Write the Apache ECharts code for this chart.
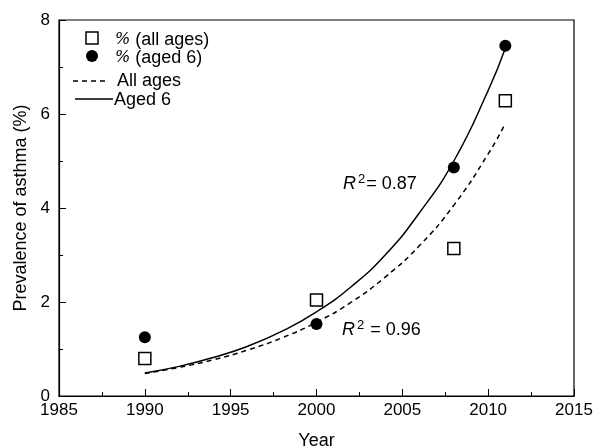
<!DOCTYPE html>
<html><head><meta charset="utf-8">
<script src="https://cdn.jsdelivr.net/npm/echarts@6/dist/echarts.min.js"></script>
<style>html,body{margin:0;padding:0;background:#fff}#c{width:597px;height:448px}</style>
</head><body><div id="c"></div>
<script>
var years = [1990, 2000, 2008, 2011];
var allAges = [0.8, 2.04, 3.14, 6.28];
var aged6 = [1.25, 1.53, 4.86, 7.45];
var fitYears = [1990, 1992, 1994, 1996, 1998, 2000, 2002, 2004, 2006, 2008, 2010, 2011];
var fitAllAges = [0.48, 0.61, 0.77, 0.98, 1.24, 1.57, 1.99, 2.53, 3.2, 4.06, 5.15, 5.8];
var fitAged6 = [0.49, 0.63, 0.82, 1.06, 1.38, 1.79, 2.32, 3.0, 3.9, 5.0, 6.5, 7.4];
var xTicks = [1985, 1990, 1995, 2000, 2005, 2010, 2015];
var yTicks = [0, 2, 4, 6, 8];
var legendNames = ['% (all ages)', '% (aged 6)', 'All ages', 'Aged 6'];

function pairs(xs, ys) { return xs.map(function (x, i) { return [x, ys[i]]; }); }
var font = 'Liberation Sans, Arial, sans-serif';
var chart = echarts.init(document.getElementById('c'));

function legendText(name, x, y) {
  var pct = name.charAt(0) === '%';
  return { type: 'text', silent: true,
    style: { x: x, y: y, verticalAlign: 'middle', align: 'left',
      text: pct ? '{p|%}{t|' + name.slice(1) + '}' : '{t|' + name + '}',
      rich: { p: { fontStyle: 'italic', fontFamily: 'DejaVu Serif, serif', fontSize: 16, fill: '#000' }, t: { fontSize: 18, fontFamily: font, fill: '#000' } } } };
}
var rich = { r: { fontStyle: 'italic', fontSize: 18, fontFamily: font }, s: { fontSize: 13, fontFamily: font, verticalAlign: 'top', padding: [0, 1, 9, 2] }, t: { fontSize: 18, fontFamily: font } };

chart.setOption({
  animation: false,
  grid: { left: 59, right: 23, top: 20, bottom: 52, show: true, borderColor: '#000', borderWidth: 1.2, containLabel: false, outerBoundsMode: 'none' },
  xAxis: {
    type: 'value', min: 1985, max: 2015, interval: 5,
    name: 'Year', nameLocation: 'middle', nameGap: 36,
    nameTextStyle: { color: '#000', fontSize: 18, fontFamily: font },
    axisLine: { lineStyle: { color: '#000', width: 1.2 } },
    axisTick: { inside: true, length: 7, lineStyle: { color: '#000' } },
    minorTick: { show: true, splitNumber: 2, length: 4, lineStyle: { color: '#000' } },
    axisLabel: { color: '#000', fontSize: 17, fontFamily: font, margin: 6, formatter: function (v) { return String(v); } },
    splitLine: { show: false }
  },
  yAxis: {
    type: 'value', min: 0, max: 8, interval: 2,
    name: 'Prevalence of asthma (%)', nameLocation: 'middle', nameGap: 28,
    nameTextStyle: { color: '#000', fontSize: 18, fontFamily: font },
    axisLine: { lineStyle: { color: '#000', width: 1.2 } },
    axisTick: { inside: true, length: 7, lineStyle: { color: '#000' } },
    minorTick: { show: true, splitNumber: 2, length: 4, lineStyle: { color: '#000' } },
    axisLabel: { color: '#000', fontSize: 17, fontFamily: font, margin: 9, padding: [0, 0, 3, 0] },
    splitLine: { show: false }
  },
  series: [
    { name: legendNames[0], type: 'scatter', data: pairs(years, allAges), symbol: 'rect', symbolSize: 12,
      itemStyle: { color: '#fff', borderColor: '#000', borderWidth: 1.5, opacity: 1 }, z: 5 },
    { name: legendNames[1], type: 'scatter', data: pairs(years, aged6), symbol: 'circle', symbolSize: 12,
      itemStyle: { color: '#000', opacity: 1 }, z: 5 },
    { name: legendNames[2], type: 'line', data: pairs(fitYears, fitAllAges), smooth: true, symbol: 'none',
      lineStyle: { color: '#000', width: 1.5, type: [5, 4] } },
    { name: legendNames[3], type: 'line', data: pairs(fitYears, fitAged6), smooth: true, symbol: 'none',
      lineStyle: { color: '#000', width: 1.5 } }
  ],
  graphic: [
    { type: 'rect', shape: { x: 86, y: 32, width: 12, height: 12 }, style: { fill: '#fff', stroke: '#000', lineWidth: 1.5 } },
    { type: 'circle', shape: { cx: 92, cy: 56, r: 6 }, style: { fill: '#000' } },
    { type: 'line', shape: { x1: 73, y1: 81, x2: 109, y2: 81 }, style: { stroke: '#000', lineWidth: 1.5, lineDash: [5, 4] } },
    { type: 'line', shape: { x1: 75, y1: 99, x2: 113, y2: 99 }, style: { stroke: '#000', lineWidth: 1.5 } },
    legendText(legendNames[0], 115, 40),
    legendText(legendNames[1], 115, 58),
    legendText(legendNames[2], 117, 81),
    legendText(legendNames[3], 114, 100),
    { type: 'text', left: 343, top: 173, style: { rich: rich, text: '{r|R}{s|2}{t|= 0.87}', fill: '#000' } },
    { type: 'text', left: 342, top: 319, style: { rich: rich, text: '{r|R}{s|2}{t| = 0.96}', fill: '#000' } }
  ]
});
</script></body></html>
